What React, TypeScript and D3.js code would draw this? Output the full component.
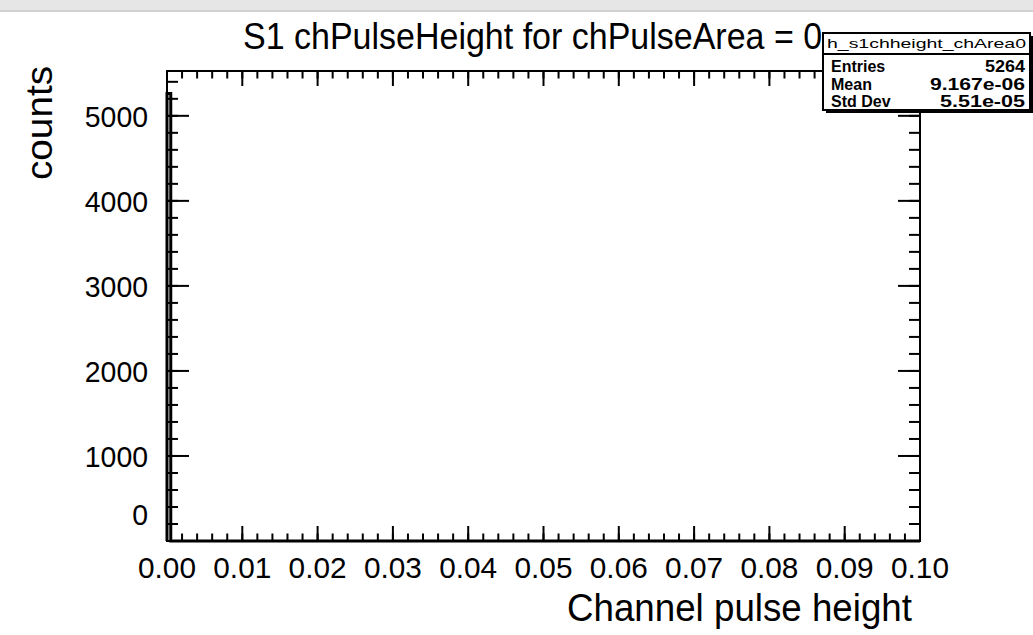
import React from 'react';
import * as d3 from 'd3';

// histogram contents (one filled bin at zero, rest empty)
const binEdges = [0, 0.0005, 0.1];
const binCounts = [5264, 0];
const xDomain = [0, 0.1];
const yMajor = [0, 1000, 2000, 3000, 4000, 5000];
const statsLabels = ['Entries', 'Mean', 'Std Dev'];
const statsValues = ['5264', '9.167e-06', '5.51e-05'];
const histName = 'h_s1chheight_chArea0';
const title = 'S1 chPulseHeight for chPulseArea = 0';
const xTitle = 'Channel pulse height';
const yTitle = 'counts';

const W = 1033, H = 635;
const frame = {left: 167, right: 920, top: 71, bottom: 541};
const FONT = '"Liberation Sans", Arial, Helvetica, sans-serif';

export default function App(){
  const x = d3.scaleLinear().domain(xDomain).range([frame.left, frame.right]);
  const ymax = d3.max(binCounts) * 1.05;
  const y = d3.scaleLinear().domain([0, ymax]).range([frame.bottom, frame.top]);

  const xMaj = x.ticks(10);
  const xMin = d3.range(0, 0.1 + 1e-9, 0.002);
  const yMin = d3.range(0, ymax, 200);
  const xTickLen = 15, yTickLen = 22;

  // histogram outline, ROOT style
  const pts = [[binEdges[0], 0]];
  binCounts.forEach((c, i) => { pts.push([binEdges[i], c]); pts.push([binEdges[i+1], c]); });
  pts.push([binEdges[binEdges.length-1], 0]);
  const line = d3.line().x(d => x(d[0])).y(d => y(d[1]));

  const sb = {left: 823, right: 1030, top: 33, bottom: 110};
  const rowY = [66, 84, 101];
  // label widths as seen in the picture (text is slightly condensed)
  const yLabW = (s) => s.length * 15.8;
  const valW = [40, 95, 85];

  return (
    <svg width={W} height={H} style={{position: 'absolute', left: 0, top: 0, background: '#fff'}} fontFamily={FONT}>
      <rect x={0} y={0} width={W} height={H} fill="#fff"/>
      <rect x={0} y={0} width={W} height={11} fill="#e6e6e6"/>
      <line x1={0} x2={W} y1={11} y2={11} stroke="#d0d0d0" strokeWidth={2}/>

      <text transform="translate(243,49) scale(1,1.08)" fontSize={34} fill="#000">{title}</text>

      {/* histogram */}
      <path d={line(pts)} fill="none" stroke="#000" strokeWidth={3}/>

      {/* frame */}
      <rect x={frame.left} y={frame.top} width={frame.right-frame.left} height={frame.bottom-frame.top}
        fill="none" stroke="#000" strokeWidth={2}/>

      {/* x ticks bottom & top */}
      {xMin.map((v, i) => (
        <g key={'xm'+i} stroke="#000" strokeWidth={2}>
          <line x1={x(v)} x2={x(v)} y1={frame.bottom} y2={frame.bottom - xTickLen/2}/>
          <line x1={x(v)} x2={x(v)} y1={frame.top} y2={frame.top + xTickLen/2}/>
        </g>
      ))}
      {xMaj.map((v, i) => (
        <g key={'xM'+i}>
          <line x1={x(v)} x2={x(v)} y1={frame.bottom} y2={frame.bottom - xTickLen} stroke="#000" strokeWidth={2}/>
          <line x1={x(v)} x2={x(v)} y1={frame.top} y2={frame.top + xTickLen} stroke="#000" strokeWidth={2}/>
          <text x={x(v)} y={578} fontSize={30} textAnchor="middle" textLength={58} lengthAdjust="spacingAndGlyphs">{d3.format('.2f')(v)}</text>
        </g>
      ))}

      {/* y ticks left & right */}
      {yMin.map((v, i) => (
        <g key={'ym'+i} stroke="#000" strokeWidth={2}>
          <line x1={frame.left} x2={frame.left + yTickLen/2} y1={y(v)} y2={y(v)}/>
          <line x1={frame.right} x2={frame.right - yTickLen/2} y1={y(v)} y2={y(v)}/>
        </g>
      ))}
      {yMajor.map((v, i) => (
        <g key={'yM'+i}>
          <line x1={frame.left} x2={frame.left + yTickLen} y1={y(v)} y2={y(v)} stroke="#000" strokeWidth={2}/>
          <line x1={frame.right} x2={frame.right - yTickLen} y1={y(v)} y2={y(v)} stroke="#000" strokeWidth={2}/>
          <text x={148} y={v === 0 ? y(v) - 27 : y(v)} dy="0.36em" fontSize={30} textAnchor="end"
            textLength={yLabW(String(v))} lengthAdjust="spacingAndGlyphs">{v}</text>
        </g>
      ))}

      <text x={912} y={621} fontSize={38} textAnchor="end" textLength={345} lengthAdjust="spacingAndGlyphs">{xTitle}</text>
      <text transform={`translate(52,66) rotate(-90)`} fontSize={37} textAnchor="end" textLength={114} lengthAdjust="spacingAndGlyphs">{yTitle}</text>

      {/* stats box */}
      <rect x={sb.left + 3} y={sb.top + 3} width={sb.right - sb.left} height={sb.bottom - sb.top} fill="#000"/>
      <rect x={sb.left} y={sb.top} width={sb.right - sb.left} height={sb.bottom - sb.top} fill="#fff" stroke="#000" strokeWidth={2}/>
      <text x={sb.left + 4} y={48} fontSize={13} textLength={sb.right - sb.left - 8} lengthAdjust="spacingAndGlyphs">{histName}</text>
      <line x1={sb.left} x2={sb.right} y1={54} y2={54} stroke="#000" strokeWidth={2}/>
      {statsLabels.map((s, i) => (
        <g key={s} fontSize={16} fontWeight="bold">
          <text x={sb.left + 8} y={rowY[i]} dy="0.36em">{s}</text>
          <text x={sb.right - 5} y={rowY[i]} dy="0.36em" textAnchor="end" textLength={valW[i]} lengthAdjust="spacingAndGlyphs">{statsValues[i]}</text>
        </g>
      ))}
    </svg>
  );
}
